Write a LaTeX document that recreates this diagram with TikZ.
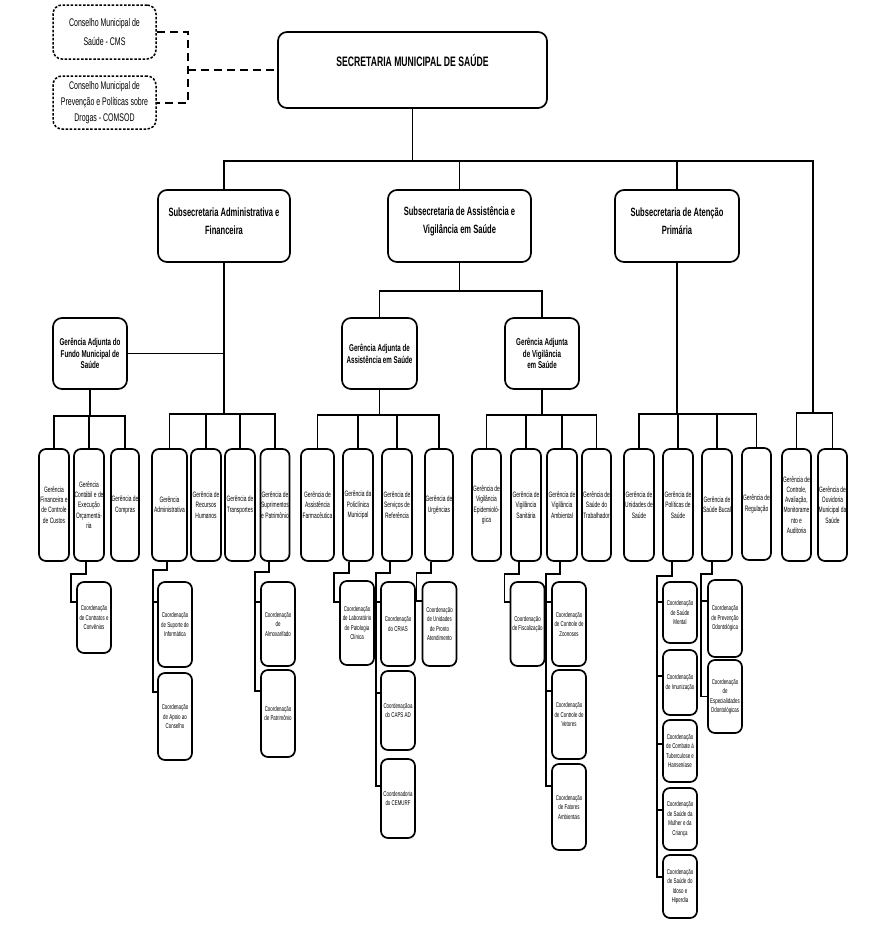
\documentclass[tikz,border=0pt]{standalone}
\usepackage{fontspec}
\setmainfont{Liberation Sans}[FakeStretch=0.63]
\begin{document}
\begin{tikzpicture}[x=1pt,y=-1pt,
  box/.style={draw, line width=1.7pt, rounded corners=7pt, align=center, inner xsep=0.5pt, inner ysep=1pt},
  dbox/.style={draw, line width=1.5pt, dash pattern=on 2.5pt off 1.6pt, rounded corners=9pt, align=center, inner sep=1pt, minimum width=103pt},
  con/.style={line width=1.5pt},
  dcon/.style={line width=2pt, dash pattern=on 8pt off 5pt},
  mainbox/.style={box, rounded corners=9pt, minimum width=269pt, minimum height=76pt},
  titlefont/.style={font=\bfseries\fontsize{13.7}{15}\selectfont},
  subbox/.style={box, rounded corners=9pt, minimum height=72pt, minimum width=#1},
  subtext/.style={align=center, inner sep=0pt, font=\bfseries\fontsize{12}{18}\selectfont},
  adjbox/.style={box, rounded corners=9pt, minimum height=71pt, minimum width=#1, font=\bfseries\fontsize{9.9}{11.7}\selectfont},
  gbox/.style={box, minimum height=112pt, minimum width=#1, font=\fontsize{7.8}{10.3}\selectfont},
  cbox/.style={box, minimum width=34pt, minimum height=#1, font=\fontsize{7}{9.5}\selectfont},
]
\useasboundingbox (0,0) rectangle (873,935);

% top
\node[dbox, minimum height=54pt, font=\fontsize{11.1}{18.5}\selectfont] (cms) at (104.5,32) {Conselho Municipal de\\Saúde - CMS};
\node[dbox, minimum height=53pt, font=\fontsize{11.1}{16}\selectfont] (comsod) at (104.5,102.5) {Conselho Municipal de\\Prevenção e Políticas sobre\\Drogas - COMSOD};
\node[mainbox] (main) at (412.5,70) {};
\node[titlefont] (maintitle) at (412.5,60) {SECRETARIA MUNICIPAL DE SAÚDE};
\coordinate (bracket) at (188,70);
\draw[dcon] (cms.east) -| (bracket) |- (comsod.east);
\draw[dcon] (bracket) -- (main.west);

% subsecretarias
\node[subbox=132pt] (subadm) at (224,226) {};
\node[subbox=143pt] (subassist) at (459.5,226) {};
\node[subbox=124pt] (subaten) at (677,226) {};
\node[subtext] (subadmt) at (224,221) {Subsecretaria Administrativa e\\Financeira};
\node[subtext] (subassistt) at (459.5,221) {Subsecretaria de Assistência e\\Vigilância em Saúde};
\node[subtext] (subatent) at (677,221) {Subsecretaria de Atenção\\Primária};
\coordinate (ctrlbar) at (813,413);
\draw[con] (main.south) -- ++(0,52) -| (subadm.north);
\draw[con] (main.south) -- ++(0,52) -| (subassist.north);
\draw[con] (main.south) -- ++(0,52) -| (subaten.north);
\draw[con] (main.south) -- ++(0,52) -| (ctrlbar);

% gerencias adjuntas
\node[adjbox=74pt] (fundo) at (90,353.5) {Gerência Adjunta do\\Fundo Municipal de\\Saúde};
\node[adjbox=75pt] (assistadj) at (379.5,353.5) {Gerência Adjunta de\\Assistência em Saúde};
\node[adjbox=74pt] (vigadj) at (542,353.5) {Gerência Adjunta\\de Vigilância\\em Saúde};
\draw[con] (fundo.east) -- (fundo.east -| subadm.south);
\draw[con] (subassist.south) -- ++(0,28) -| (assistadj.north);
\draw[con] (subassist.south) -- ++(0,28) -| (vigadj.north);

% gerencias
\node[gbox=30pt] (fin) at (54,505) {Gerência\\Financeira e\\de Controle\\de Custos};
\node[gbox=30pt] (cont) at (89,505) {Gerência\\Contábil e de\\Execução\\Orçamentá-\\ria};
\node[gbox=28pt] (comp) at (125,505) {Gerência de\\Compras};
\node[gbox=35pt] (adm) at (169.5,505) {Gerência\\Administrativa};
\node[gbox=30pt] (rh) at (206,505) {Gerência de\\Recursos\\Humanos};
\node[gbox=30pt] (transp) at (240,505) {Gerência de\\Transportes};
\node[gbox=29pt] (supr) at (275,505) {Gerência de\\Suprimentos\\e Patrimônio};
\node[gbox=33pt] (farm) at (317.5,505) {Gerência de\\Assistência\\Farmacêutica};
\node[gbox=30pt] (polic) at (358,505) {Gerência da\\Policlínica\\Municipal};
\node[gbox=30pt] (serv) at (397,505) {Gerência de\\Serviços de\\Referência};
\node[gbox=28pt] (urg) at (439,505) {Gerência de\\Urgências};
\node[gbox=29pt] (epid) at (486.5,505) {Gerência de\\Vigilância\\Epidemioló-\\gica};
\node[gbox=30pt] (sanit) at (526,505) {Gerência de\\Vigilância\\Sanitária};
\node[gbox=30pt] (amb) at (562,505) {Gerência de\\Vigilância\\Ambiental};
\node[gbox=29pt] (trab) at (596.5,505) {Gerência de\\Saúde do\\Trabalhador};
\node[gbox=30pt] (unid) at (639,505) {Gerência de\\Unidades de\\Saúde};
\node[gbox=30pt] (polit) at (678,505) {Gerência de\\Políticas de\\Saúde};
\node[gbox=30pt] (bucal) at (717,505) {Gerência de\\Saúde Bucal};
\node[gbox=29pt] (reg) at (756.5,504) {Gerência de\\Regulação};
\node[gbox=29pt] (ctrl) at (796.5,505) {Gerência de\\Controle,\\Avaliação,\\Monitorame\\nto e\\Auditoria};
\node[gbox=29pt] (ouv) at (832.5,505) {Gerência de\\Ouvidoria\\Municipal da\\Saúde};

\foreach \c in {fin,cont,comp} \draw[con] (fundo.south) -- ++(0,26) -| (\c.north);
\foreach \c in {adm,rh,transp,supr} \draw[con] (subadm.south) -- ++(0,151) -| (\c.north);
\foreach \c in {farm,polic,serv,urg} \draw[con] (assistadj.south) -- ++(0,25) -| (\c.north);
\foreach \c in {epid,sanit,amb,trab} \draw[con] (vigadj.south) -- ++(0,25) -| (\c.north);
\foreach \c in {unid,polit,bucal,reg} \draw[con] (subaten.south) -- ++(0,151) -| (\c.north);
\draw[con] (ctrl.north) |- (ctrlbar) -| (ouv.north);

% coordenacoes
\node[cbox=71pt] (contr) at (94,617.5) {Coordenação\\de Contratos e\\Convênios};
\node[cbox=85pt] (sup) at (175,624.5) {Coordenação\\de Suporte de\\Informática};
\node[cbox=87pt] (apo) at (175,716.5) {Coordenação\\de Apoio ao\\Conselho};
\node[cbox=84pt] (alm) at (278,624) {Coordenação\\de\\Almoxarifado};
\node[cbox=87pt] (pat) at (278,713.5) {Coordenação\\de Patrimônio};
\node[cbox=84pt] (lab) at (357,623) {Coordenação\\de Laboratório\\de Patologia\\Clínica};
\node[cbox=84pt] (crias) at (398,624) {Coordenação\\do CRIAS};
\node[cbox=79pt] (caps) at (398,710.5) {Coordenaçãoa\\do CAPS AD};
\node[cbox=79pt] (cemurf) at (398,798.5) {Coordenadoria\\do CEMURF};
\node[cbox=84pt] (upa) at (439.5,624) {Coordenação\\de Unidades\\de Pronto\\Atendimento};
\node[cbox=84pt] (fisc) at (527.5,624) {Coordenação\\de Fiscalização};
\node[cbox=84pt] (zoo) at (569,624) {Coordenação\\de Controle de\\Zoonoses};
\node[cbox=89pt] (vet) at (569,714.5) {Coordenação\\de Controle de\\Vetores};
\node[cbox=86pt] (fat) at (569,807) {Coordenação\\de Fatores\\Ambientais};
\node[cbox=61pt] (ment) at (680,612.5) {Coordenação\\de Saúde\\Mental};
\node[cbox=65pt] (imun) at (680,682.5) {Coordenação\\de Imunização};
\node[cbox=62pt] (comb) at (680,751) {Coordenação\\de Combate à\\Tuberculose e\\Hanseníase};
\node[cbox=62pt] (mulh) at (680,819) {Coordenação\\de Saúde da\\Mulher e da\\Criança};
\node[cbox=63pt] (idos) at (680,886.5) {Coordenação\\de Saúde do\\Idoso e\\Hiperdia};
\node[cbox=77pt] (prev) at (725,618.5) {Coordenação\\de Prevenção\\Odontológica};
\node[cbox=73pt] (espec) at (725,696.5) {Coordenação\\de\\Especialidades\\Odontológicas};

% connectors to coordenacoes
\draw[con] ([xshift=-3pt]cont.south) -- ++(0,12) -| ([xshift=-5pt,yshift=-21pt]contr.north west) -- ([yshift=-21pt]contr.north west);
\draw[con] ([xshift=-2.5pt]adm.south) -- ++(0,8) -| ([xshift=-4pt,yshift=-21pt]sup.north west) -- ([yshift=-21pt]sup.north west);
\draw[con] ([xshift=-4pt,yshift=-21pt]sup.north west) |- ([yshift=-20pt]apo.north west);
\draw[con] ([xshift=-6pt]supr.south) -- ++(0,10) -| ([xshift=-5pt,yshift=-21pt]alm.north west) -- ([yshift=-21pt]alm.north west);
\draw[con] ([xshift=-5pt,yshift=-21pt]alm.north west) |- ([yshift=-22pt]pat.north west);
\draw[con] ([xshift=-9pt]polic.south) -- ++(0,11) -| ([xshift=-5pt,yshift=-22pt]lab.north west) -- ([yshift=-22pt]lab.north west);
\draw[con] ([xshift=-7pt]serv.south) -- ++(0,11) -| ([xshift=-4pt,yshift=-21pt]crias.north west) -- ([yshift=-21pt]crias.north west);
\draw[con] ([xshift=-4pt,yshift=-21pt]crias.north west) |- ([yshift=-23pt]caps.north west);
\draw[con] ([xshift=-4pt,yshift=-21pt]crias.north west) |- ([yshift=-28pt]cemurf.north west);
\draw[con] ([xshift=-8pt]urg.south) -- ++(0,11) -| ([xshift=-5pt,yshift=-20pt]upa.north west) -- ([yshift=-20pt]upa.north west);
\draw[con] ([xshift=-7pt]sanit.south) -- ++(0,12) -| ([xshift=-5pt,yshift=-21pt]fisc.north west) -- ([yshift=-21pt]fisc.north west);
\draw[con] ([xshift=-2pt]amb.south) -- ++(0,12) -| ([xshift=-5pt,yshift=-21pt]zoo.north west) -- ([yshift=-21pt]zoo.north west);
\draw[con] ([xshift=-5pt,yshift=-21pt]zoo.north west) |- ([yshift=-22pt]vet.north west);
\draw[con] ([xshift=-5pt,yshift=-21pt]zoo.north west) |- ([yshift=-23pt]fat.north west);
\draw[con] ([xshift=-6pt]polit.south) -- ++(0,14) -| ([xshift=-5pt,yshift=-21pt]ment.north west) -- ([yshift=-21pt]ment.north west);
\draw[con] ([xshift=-5pt,yshift=-21pt]ment.north west) |- ([yshift=-27pt]imun.north west);
\draw[con] ([xshift=-5pt,yshift=-21pt]ment.north west) |- ([yshift=-25pt]comb.north west);
\draw[con] ([xshift=-5pt,yshift=-21pt]ment.north west) |- ([yshift=-23pt]mulh.north west);
\draw[con] ([xshift=-5pt,yshift=-21pt]ment.north west) |- ([yshift=-23pt]idos.north west);
\draw[con] ([xshift=-5pt]bucal.south) -- ++(0,12) -| ([xshift=-6pt,yshift=-22pt]prev.north west) -- ([yshift=-22pt]prev.north west);
\draw[con] ([xshift=-6pt,yshift=-22pt]prev.north west) |- (espec.west);
\end{tikzpicture}
\end{document}
